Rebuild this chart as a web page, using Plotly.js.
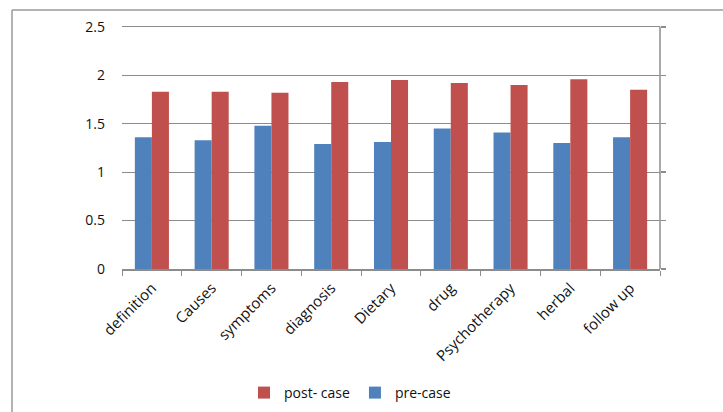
<!DOCTYPE html>
<html>
<head>
<meta charset="utf-8">
<script src="https://cdn.plot.ly/plotly-3.0.1.min.js"></script>
<style>html,body{margin:0;padding:0;background:#fff;}#chart{width:723px;height:412px;}</style>
</head>
<body>
<div id="chart"></div>
<script>
const categories = ["definition", "Causes", "symptoms", "diagnosis", "Dietary", "drug", "Psychotherapy", "herbal", "follow up"];
const preCase = [1.36, 1.33, 1.48, 1.29, 1.31, 1.45, 1.41, 1.30, 1.36];
const postCase = [1.83, 1.83, 1.82, 1.93, 1.95, 1.92, 1.90, 1.96, 1.85];
const yTicks = [0, 0.5, 1, 1.5, 2, 2.5];
const yTickText = ["0", "0.5", "1", "1.5", "2", "2.5"];
const yRange = [0, 2.55];

const font = {family: "Open Sans, Liberation Sans, sans-serif", size: 14, color: "#111"};
const traces = [
  {type: "bar", name: "pre-case", x: categories, y: preCase, marker: {color: "#4F81BD"}},
  {type: "bar", name: "post- case", x: categories, y: postCase, marker: {color: "#C0504D"}},
  {type: "scatter", x: categories, y: preCase, yaxis: "y2", mode: "none", showlegend: false, hoverinfo: "skip"}
];
const plotH = 242 * 2.55 / 2.5;
const layout = {
  width: 723, height: 412,
  margin: {l: 122, r: 63, t: 412 - 143 - plotH, b: 143},
  paper_bgcolor: "#fff", plot_bgcolor: "#fff",
  font: font,
  barmode: "group", bargap: 0.43, bargroupgap: 0,
  showlegend: true,
  legend: {orientation: "h", traceorder: "reversed", x: 350/723, xref: "container", xanchor: "center",
           y: 1 - 393/412, yref: "container", yanchor: "middle", font: {family: font.family, size: 14, color: "#111"}, itemwidth: 30},
  xaxis: {type: "category", showline: true, linecolor: "#8c8c8c", linewidth: 1.5, ticks: "outside", tickson: "boundaries",
          ticklen: 5, tickcolor: "#8c8c8c", tickangle: -45, showgrid: false, zeroline: false, tickfont: {size: 15},
          ticklabelstandoff: 3},
  yaxis: {range: yRange, tickvals: yTicks, ticktext: yTickText, showgrid: true, gridcolor: "#8c8c8c", gridwidth: 1,
          showline: false, zeroline: false, ticks: "", ticklabelstandoff: 16, tickfont: {size: 14}},
  yaxis2: {range: yRange, overlaying: "y", side: "right", tickvals: yTicks, showticklabels: false, showline: false,
           ticks: "outside", ticklen: 5, tickcolor: "#8c8c8c", tickwidth: 1.5, showgrid: false, zeroline: false},
  shapes: [
    {type: "line", xref: "paper", yref: "y", x0: 1, x1: 1, y0: yRange[0], y1: yTicks[yTicks.length - 1], line: {color: "#8c8c8c", width: 1.5}},
    {type: "line", xref: "paper", yref: "paper", x0: -110/538, x1: 1.2, y0: 1 + 12/plotH, y1: 1 + 12/plotH, line: {color: "#9a9a9a", width: 1.5}},
    {type: "line", xref: "paper", yref: "paper", x0: -110/538, x1: -110/538, y0: 1 + 12/plotH, y1: -1, line: {color: "#9a9a9a", width: 1.5}}
  ]
};
Plotly.newPlot("chart", traces, layout, {displayModeBar: false, staticPlot: true});
</script>
</body>
</html>
